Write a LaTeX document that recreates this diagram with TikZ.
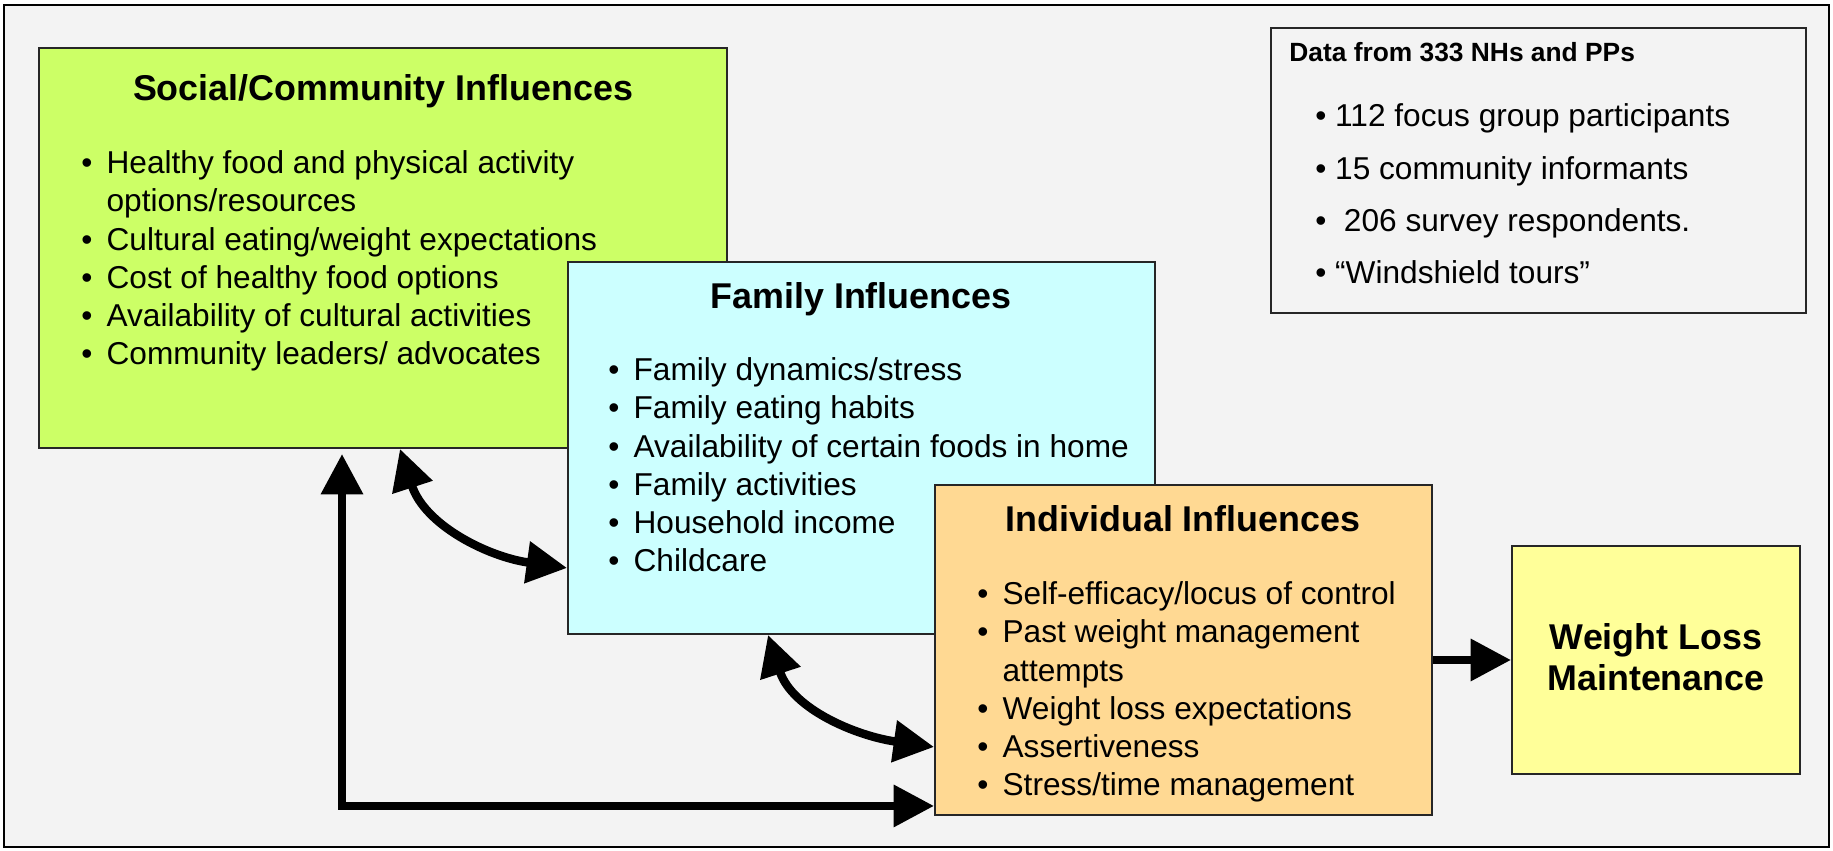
\documentclass[tikz,border=0pt]{standalone}
\usepackage{fontspec}
\setmainfont{Liberation Sans}
\usepackage{xcolor}
\usetikzlibrary{arrows.meta, positioning, fit, calc}

\definecolor{socialfill}{HTML}{CCFF66}
\definecolor{familyfill}{HTML}{CCFFFF}
\definecolor{indivfill}{HTML}{FFD993}
\definecolor{outcomefill}{HTML}{FFFF99}
\definecolor{pagefill}{HTML}{F3F3F3}

\newcommand{\bul}{\makebox[0.8em][l]{\textbullet}}
\newcommand{\hang}{\hspace*{0.8em}}

\begin{document}
\begin{tikzpicture}[
    x=0.02cm, y=0.02cm,
    box/.style={rectangle, draw=black!85, line width=1.1pt, inner sep=0pt},
    heading/.style={font=\fontsize{20.4}{24}\selectfont\bfseries, anchor=base, inner sep=0pt},
    items/.style={font=\fontsize{18}{21.8}\selectfont, align=left, anchor=base west, inner sep=0pt},
    both/.style={{Triangle[length=23pt,width=23pt]}-{Triangle[length=23pt,width=23pt]}, line width=4.8pt},
    arrow/.style={-{Triangle[length=23pt,width=23pt]}, line width=4.8pt},
]

\useasboundingbox (0,0) rectangle (1833,851);
\draw[fill=pagefill, line width=1.1pt] (4,4) rectangle (1829,846);

% the three nested influence levels
\node[box, fill=socialfill, fit={(39,803) (727,403)}] (social) {};
\node[box, fill=familyfill, fit={(568,589) (1155,217)}] (family) {};
\node[box, fill=indivfill, fit={(935,366) (1432,36)}] (individual) {};
\node[box, fill=outcomefill, fit={(1512,305) (1800,77)}] (outcome) {};
\node[box, fit={(1271,823) (1806,538)}] (data) {};

% lists sit on the baseline of their last line
\node[heading] (socialhead) at (383,750) {Social/Community Influences};
\node[items] (socialitems) at (81,486) {%
    \bul Healthy food and physical activity\\
    \hang options/resources\\
    \bul Cultural eating/weight expectations\\
    \bul Cost of healthy food options\\
    \bul Availability of cultural activities\\
    \bul Community leaders/ advocates};

\node[heading] (familyhead) at (861,542) {Family Influences};
\node[items] (familyitems) at (608,279) {%
    \bul Family dynamics/stress\\
    \bul Family eating habits\\
    \bul Availability of certain foods in home\\
    \bul Family activities\\
    \bul Household income\\
    \bul Childcare};

\node[heading] (indivhead) at (1183,319) {Individual Influences};
\node[items] (indivitems) at (977,55) {%
    \bul Self-efficacy/locus of control\\
    \bul Past weight management\\
    \hang attempts\\
    \bul Weight loss expectations\\
    \bul Assertiveness\\
    \bul Stress/time management};

\node[heading, align=center, font=\fontsize{20.4}{23.8}\selectfont\bfseries] (outcomehead) at (1656,160) {Weight Loss\\Maintenance};

% sources of the data
\node[anchor=base west, inner sep=0pt, font=\fontsize{15}{18}\selectfont\bfseries] (datahead) at (1289,789) {Data from 333 NHs and PPs};
\node[items, font=\fontsize{18}{29.8}\selectfont] (dataitems) at (1315,567) {%
    \textbullet\ 112 focus group participants\\
    \textbullet\ 15 community informants\\
    \textbullet\ \ 206 survey respondents.\\
    \textbullet\ “Windshield tours”};

\draw[both] ([xshift=0.34cm]social.south) to[out=-72, in=172] ([yshift=1.34cm]family.south west);
\draw[both] ([xshift=-1.87cm]family.south) to[out=-72, in=172] ([yshift=1.38cm]individual.south west);
\draw[both] ([xshift=-0.82cm, yshift=-0.1cm]social.south) |- ([yshift=0.2cm]individual.south west);
\draw[arrow] (individual.east |- outcome.west) -- (outcome.west);

\end{tikzpicture}
\end{document}
